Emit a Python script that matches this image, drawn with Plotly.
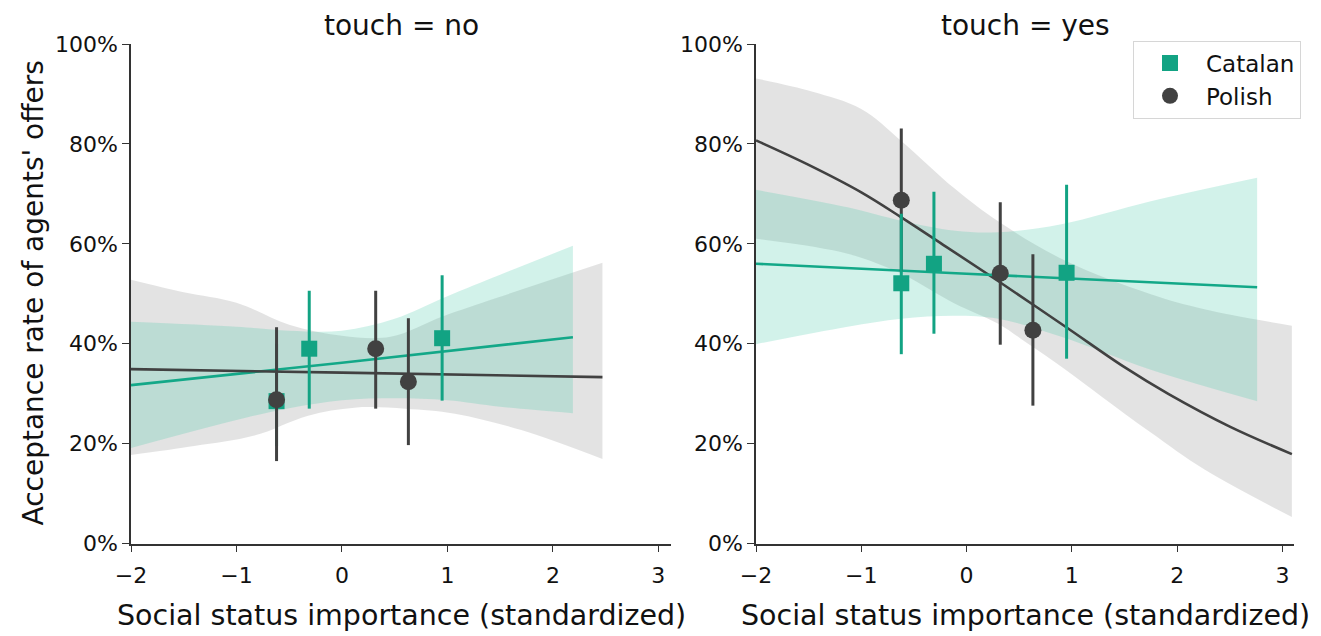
import plotly.graph_objects as go

# ---------------- data ----------------
# points (x positions shared across panels)
cat_x = [-0.62, -0.31, 0.95]
pol_x = [-0.62, 0.32, 0.63]

# touch = no
no_cat_y = [28.5, 39.0, 41.1]
no_cat_lo = [19.5, 27.0, 28.6]
no_cat_hi = [40.0, 50.6, 53.7]
no_pol_y = [28.8, 39.0, 32.4]
no_pol_lo = [16.5, 27.0, 19.7]
no_pol_hi = [43.3, 50.6, 45.1]

# touch = yes
yes_cat_y = [52.1, 56.0, 54.2]
yes_cat_lo = [37.9, 42.0, 37.0]
yes_cat_hi = [66.0, 70.4, 71.8]
yes_pol_y = [68.7, 54.1, 42.7]
yes_pol_lo = [54.5, 39.8, 27.6]
yes_pol_hi = [83.1, 68.3, 57.9]

# fitted lines
no_cat_line_x = [-2, 0, 2.19]
no_cat_line_y = [31.7, 36.2, 41.3]
no_pol_line_x = [-2, 0, 2.47]
no_pol_line_y = [34.9, 34.2, 33.3]
yes_cat_line_x = [-2, 0, 2.76]
yes_cat_line_y = [56.0, 54.0, 51.3]
yes_pol_line_x = [-2, -1.5, -1, -0.62, -0.2, 0.31, 0.94, 1.5, 1.92, 2.5, 3.09]
yes_pol_line_y = [80.7, 75.8, 70.3, 65.3, 59.5, 52.4, 43.4, 35.3, 29.9, 23.4, 17.9]

# confidence bands
no_cat_band_x = [-2, -1, -0.5, 0, 0.5, 1, 1.5, 2.19]
no_cat_band_hi = [44.4, 43.4, 42.6, 42.6, 45.0, 49.5, 53.8, 59.6]
no_cat_band_lo = [19.1, 24.7, 27.1, 28.7, 29.1, 28.7, 27.4, 26.1]

no_pol_band_hi_x = [-2, -1.5, -1, -0.5, 0, 0.46, 0.96, 1.47, 2.47]
no_pol_band_hi = [52.8, 50.3, 48.2, 43.8, 41.6, 41.4, 45.5, 49.2, 56.2]
no_pol_band_lo_x = [-2, -1.4, -0.83, -0.32, 0.12, 0.6, 1.07, 1.7, 2.47]
no_pol_band_lo = [17.7, 19.5, 21.6, 25.6, 27.2, 27.0, 26.0, 22.7, 16.9]

yes_cat_band_x = [-2, -1.13, -0.62, -0.11, 0.30, 0.90, 1.75, 2.76]
yes_cat_band_hi = [70.8, 67.3, 64.6, 62.6, 62.3, 63.9, 68.5, 73.2]
yes_cat_band_lo = [39.9, 43.4, 45.0, 45.6, 45.0, 41.4, 34.8, 28.5]

yes_pol_band_hi_x = [-2, -1.47, -1.0, -0.62, -0.11, 0.30, 0.94, 1.75, 2.26, 3.09]
yes_pol_band_hi = [93.1, 90.5, 87.0, 80.6, 71.0, 64.5, 56.6, 49.9, 46.9, 43.6]
yes_pol_band_lo_x = [-2, -1.13, -0.62, -0.11, 0.30, 0.57, 0.94, 1.29, 1.75, 2.26, 3.09]
yes_pol_band_lo = [61.0, 58.0, 54.0, 48.0, 44.0, 40.2, 34.8, 29.3, 22.2, 14.8, 5.3]

categories = ["Catalan", "Polish"]
panel_titles = ["touch = no", "touch = yes"]

# ---------------- style ----------------
TEAL = "#12a383"
TEAL_LINE = "#13a888"
TEAL_BAND = "rgba(60,200,165,0.23)"
DARK = "#414141"
GREY_BAND = "rgba(0,0,0,0.11)"
FONT = "DejaVu Sans"

# the page body adds a small offset; lay out in screen pixels and convert
OX, OY = 7, 7.5
SW, SH = 1321, 636
W, H = int(SW - OX), int(SH - OY)


def fx(px):
    return (px - OX) / W


def fy(py):
    return 1 - (py - OY) / H


def p(v):
    return [a / 100 for a in v]


fig = go.Figure()


def band(xl, lo, xh, hi, color, xa, ya):
    fig.add_trace(go.Scatter(x=xl, y=p(lo), mode="lines", line=dict(width=0, shape="spline"),
                             hoverinfo="skip", showlegend=False, xaxis=xa, yaxis=ya))
    fig.add_trace(go.Scatter(x=xh, y=p(hi), mode="lines", line=dict(width=0, shape="spline"),
                             fill="tonexty", fillcolor=color, hoverinfo="skip",
                             showlegend=False, xaxis=xa, yaxis=ya))


def line(x, y, color, xa, ya):
    fig.add_trace(go.Scatter(x=x, y=p(y), mode="lines", line=dict(color=color, width=2.6, shape="spline"),
                             showlegend=False, xaxis=xa, yaxis=ya))


def pts(x, y, lo, hi, color, symbol, size, name, legend, rank, xa, ya):
    fig.add_trace(go.Scatter(
        x=x, y=p(y), mode="markers", name=name, showlegend=legend, legendrank=rank,
        marker=dict(color=color, symbol=symbol, size=size, line=dict(width=0)),
        error_y=dict(type="data", symmetric=False,
                     array=[(h - v) / 100 for h, v in zip(hi, y)],
                     arrayminus=[(v - l) / 100 for l, v in zip(lo, y)],
                     color=color, thickness=3, width=0),
        xaxis=xa, yaxis=ya))


# panel 1
band(no_pol_band_lo_x, no_pol_band_lo, no_pol_band_hi_x, no_pol_band_hi, GREY_BAND, "x", "y")
band(no_cat_band_x, no_cat_band_lo, no_cat_band_x, no_cat_band_hi, TEAL_BAND, "x", "y")
line(no_cat_line_x, no_cat_line_y, TEAL_LINE, "x", "y")
line(no_pol_line_x, no_pol_line_y, DARK, "x", "y")
pts(cat_x, no_cat_y, no_cat_lo, no_cat_hi, TEAL, "square", 16, categories[0], True, 1, "x", "y")
pts(pol_x, no_pol_y, no_pol_lo, no_pol_hi, DARK, "circle", 17, categories[1], True, 2, "x", "y")

# panel 2
band(yes_pol_band_lo_x, yes_pol_band_lo, yes_pol_band_hi_x, yes_pol_band_hi, GREY_BAND, "x2", "y2")
band(yes_cat_band_x, yes_cat_band_lo, yes_cat_band_x, yes_cat_band_hi, TEAL_BAND, "x2", "y2")
line(yes_pol_line_x, yes_pol_line_y, DARK, "x2", "y2")
line(yes_cat_line_x, yes_cat_line_y, TEAL_LINE, "x2", "y2")
pts(pol_x, yes_pol_y, yes_pol_lo, yes_pol_hi, DARK, "circle", 17, categories[1], False, 2, "x2", "y2")
pts(cat_x, yes_cat_y, yes_cat_lo, yes_cat_hi, TEAL, "square", 16, categories[0], False, 1, "x2", "y2")

ydom = [fy(543), fy(43.5)]
xdom1 = [fx(130), fx(670)]
xdom2 = [fx(755), fx(1293)]

axis_common = dict(showline=True, linecolor="#333333", linewidth=1.6, ticks="outside",
                   ticklen=7, tickwidth=1.4, tickcolor="#333333", showgrid=False, zeroline=False,
                   automargin=False,
                   tickfont=dict(family=FONT, size=22, color="#111111"), fixedrange=True)

fig.update_layout(
    width=W, height=H,
    margin=dict(l=0, r=0, t=0, b=0, autoexpand=False),
    plot_bgcolor="white", paper_bgcolor="white",
    font=dict(family=FONT, color="#111111"),
    xaxis=dict(domain=xdom1, range=[-2, 3.12], tickvals=[-2, -1, 0, 1, 2, 3], anchor="y",
               ticklabelstandoff=4, **axis_common),
    yaxis=dict(domain=ydom, range=[0, 1], tickvals=[0, 0.2, 0.4, 0.6, 0.8, 1.0], tickformat=".0%",
               anchor="x", **axis_common),
    xaxis2=dict(domain=xdom2, range=[-2, 3.11], tickvals=[-2, -1, 0, 1, 2, 3], anchor="y2",
                ticklabelstandoff=4, **axis_common),
    yaxis2=dict(domain=ydom, range=[0, 1], tickvals=[0, 0.2, 0.4, 0.6, 0.8, 1.0], tickformat=".0%",
                anchor="x2", **axis_common),
    legend=dict(x=fx(1132), y=fy(40), xanchor="left", yanchor="top", traceorder="normal",
                bgcolor="white", bordercolor="#d6d6d6", borderwidth=1, tracegroupgap=0,
                font=dict(family=FONT, size=23, color="#111111"), itemwidth=62),
    showlegend=True,
)

annotations = [
    dict(text=panel_titles[0], x=(xdom1[0] + xdom1[1]) / 2, y=fy(25), size=28),
    dict(text=panel_titles[1], x=(xdom2[0] + xdom2[1]) / 2, y=fy(25), size=28),
    dict(text="Social status importance (standardized)", x=(xdom1[0] + xdom1[1]) / 2, y=fy(615), size=28.5),
    dict(text="Social status importance (standardized)", x=(xdom2[0] + xdom2[1]) / 2, y=fy(615), size=28.5),
    dict(text="Acceptance rate of agents' offers", x=fx(32), y=fy(293), textangle=-90, size=28),
]
for a in annotations:
    size = a.pop("size")
    fig.add_annotation(xref="paper", yref="paper", xanchor="center", yanchor="middle",
                       showarrow=False, font=dict(family=FONT, size=size, color="#111111"), **a)

fig.write_html("out.html")
